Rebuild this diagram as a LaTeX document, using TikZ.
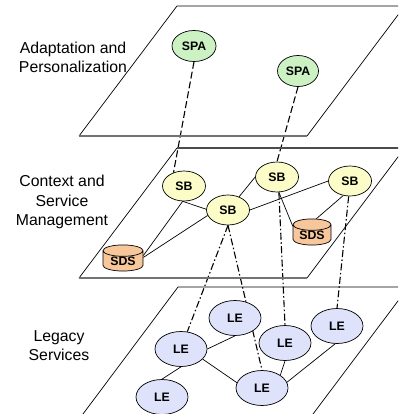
\documentclass[tikz,border=0pt]{standalone}
\usepackage{fontspec}
\setmainfont{Liberation Sans}
\usetikzlibrary{shapes.geometric,backgrounds}
\definecolor{spafill}{HTML}{CCF2C4}
\definecolor{sbfill}{HTML}{FCFCC8}
\definecolor{sdsfill}{HTML}{F7C69A}
\definecolor{lefill}{HTML}{DEE2FA}
\tikzset{
  plane/.style={draw=black, line width=0.7pt},
  planeedge/.style={draw=black!55, line width=1.4pt},
  layerlabel/.style={align=center, font=\fontsize{15.8}{19.5}\selectfont, inner sep=0pt},
  nodetext/.style={font=\fontsize{12.3}{14}\selectfont\bfseries},
  ell/.style={ellipse, draw=black, line width=0.7pt, inner sep=0pt, nodetext},
  spanode/.style={ell, fill=spafill, minimum width=44pt, minimum height=31pt},
  sbnode/.style={ell, fill=sbfill, minimum width=43pt, minimum height=30pt},
  lenode/.style={ell, fill=lefill, minimum width=52pt, minimum height=35pt},
  sdsnode/.style={cylinder, shape border rotate=90, aspect=0.45, draw=black, line width=0.7pt,
     fill=sdsfill, minimum width=40pt, minimum height=26pt, inner sep=0pt, nodetext},
  edge/.style={draw=black, line width=0.7pt},
  upconn/.style={draw=black, line width=1.1pt, dash pattern=on 7pt off 3pt},
  downconn/.style={draw=black, line width=1.1pt, dash pattern=on 7pt off 2.5pt on 1.5pt off 2.5pt}
}
\begin{document}
\begin{tikzpicture}[x=1pt,y=-1pt]
\useasboundingbox (0,0) rectangle (398,414);
\begin{scope}
\clip (0,0) rectangle (398,414);
% planes
\draw[plane] (79,136) -- (177,6) -- (410,6);
\draw[plane] (307,136) -- (410,-1);
\draw[planeedge] (79,136) -- (307,136);
\draw[plane] (79,278) -- (177,148);
\draw[draw=black!70, line width=1.1pt] (177,148) -- (410,148);
\draw[plane] (307,278) -- (410,141);
\draw[planeedge] (79,278) -- (307,278);
\draw[plane] (80,418) -- (178,287) -- (410,287);
\draw[plane] (310,418) -- (410,285);
\end{scope}
% layer labels
\node[layerlabel] (lab1) at (73,57.5) {Adaptation and\\Personalization};
\node[layerlabel] (lab2) at (62,202) {Context and\\Service\\Management};
\node[layerlabel] (lab3) at (59,345.5) {Legacy\\Services};
% nodes
\node[spanode] (spa1) at (194,46) {SPA};
\node[spanode, minimum width=41pt] (spa2) at (298,71) {SPA};
\node[sbnode] (sb1) at (184,186) {SB};
\node[sbnode] (sb2) at (277,177) {SB};
\node[sbnode] (sb3) at (228,210) {SB};
\node[sbnode] (sb4) at (350,181) {SB};
\node[sdsnode] (sds1) at (123,261) {SDS};
\node[sdsnode, minimum width=38pt] (sds2) at (312,235) {SDS};
\node[lenode] (le1) at (181,349) {LE};
\node[lenode] (le2) at (235,318) {LE};
\node[lenode] (le3) at (285,343) {LE};
\node[lenode] (le4) at (337,326) {LE};
\node[lenode] (le5) at (262,388) {LE};
\node[lenode] (le6) at (162,397) {LE};
% connectors behind nodes
\begin{scope}[on background layer]
\draw[upconn] (spa1.south) -- (sb1.128);
\draw[upconn] (spa2.south) -- (sb2.north);
\draw[edge] (sb1.-95) -- (sb3.178);
\draw[edge] (sb1.-95) -- (sds1.15);
\draw[edge] (sds1.10) -- (sb3.195);
\draw[edge] (sb3.50) -- (sb2.west);
\draw[edge] (sb3.east) -- (sb4.west);
\draw[edge] (sb2.-83) -- (sds2.155);
\draw[edge] (sb4.-115) -- (sds2.75);
\draw[downconn] (sb3.south) -- (le1.70);
\draw[downconn] (sb3.south) -- (le5.north);
\draw[downconn] (sb2.-83) -- (le3.north);
\draw[downconn] (sb4.-95) -- (le4.north);
\draw[edge] (le1.east) -- (le2.south);
\draw[edge] (le1.-25) -- (le5.168);
\draw[edge] (le1.south) -- (le6.north);
\draw[edge] (le3.south) -- (le5.35);
\draw[edge] (le4.-96) -- (le5.13);
\end{scope}
\end{tikzpicture}
\end{document}
